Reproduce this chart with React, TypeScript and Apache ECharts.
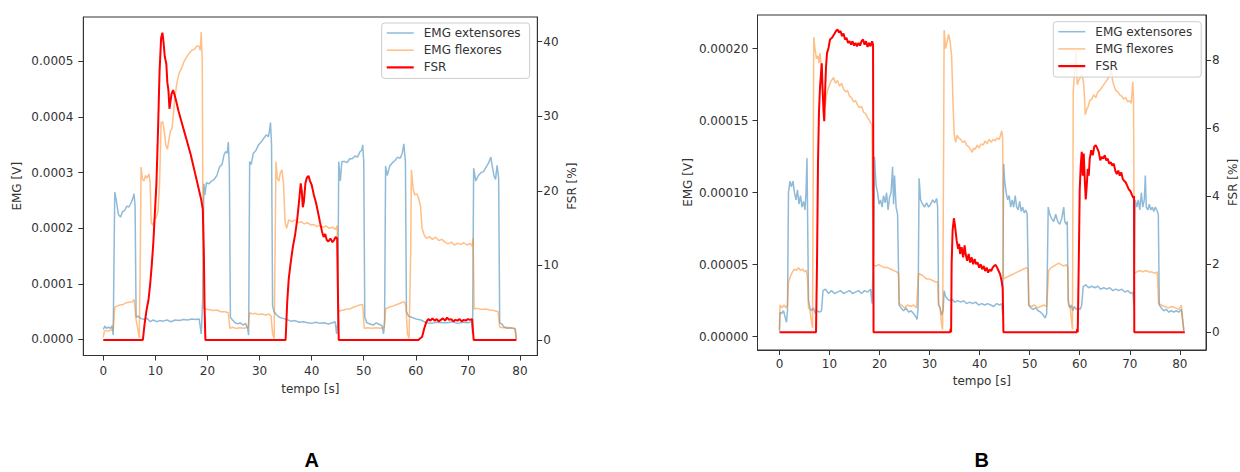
import React, { useEffect, useRef } from "react";
import * as echarts from "echarts";

type P = [number, number];

// ---------- Panel A (tempo [s], EMG [V], FSR [%]) ----------
const extensoresA: P[] = [
  [0, 0.000018], [0.3, 0.000024], [0.6, 0.00002], [1.0, 0.000022], [1.4, 0.00002], [1.7, 0.000025], [1.9, 0.000008],
  [2.2, 0.000265], [2.5, 0.00025], [2.9, 0.000225], [3.3, 0.00022], [3.7, 0.00023], [4.1, 0.000232], [4.5, 0.00024],
  [4.9, 0.000238], [5.3, 0.000245], [5.6, 0.000252], [5.9, 0.000262], [6.1, 0.00024], [6.3, 0.00004], [6.7, 0.000042],
  [7.2, 0.000038], [7.8, 0.000036], [8.4, 0.000038], [9.0, 0.000032], [9.6, 0.000035], [10.2, 0.000032], [10.8, 0.000034],
  [11.5, 0.000033], [12.2, 0.000035], [13.0, 0.000032], [13.8, 0.000035], [14.6, 0.000034], [15.4, 0.000036],
  [16.2, 0.000035], [17.0, 0.000037], [17.8, 0.000036], [18.4, 0.000037], [18.8, 0.00001], [19.1, 0.000075],
  [19.3, 0.00028], [19.5, 0.00026], [19.8, 0.000282], [20.3, 0.00028], [20.8, 0.000285], [21.3, 0.000288],
  [21.8, 0.000295], [22.3, 0.00031], [22.8, 0.000315], [23.2, 0.000333], [23.5, 0.000338], [23.8, 0.000335],
  [24.0, 0.000355], [24.2, 0.00031], [24.4, 0.00004], [24.8, 0.000035], [25.3, 0.00003], [25.8, 0.000028],
  [26.3, 0.00003], [26.8, 0.000026], [27.3, 0.000029], [27.7, 0.00002], [27.9, 0.000008], [28.1, 0.00032],
  [28.4, 0.000315], [28.8, 0.000335], [29.3, 0.00034], [29.8, 0.00035], [30.3, 0.000355], [30.8, 0.000362],
  [31.3, 0.000368], [31.7, 0.000365], [31.9, 0.000375], [32.1, 0.00039], [32.3, 0.00035], [32.5, 0.00006],
  [32.8, 0.00005], [33.2, 0.000045], [33.8, 0.00004], [34.5, 0.000038], [35.2, 0.000036], [36.0, 0.000033],
  [36.8, 0.000034], [37.6, 0.000031], [38.4, 0.000032], [39.2, 0.00003], [40.0, 0.000029], [40.8, 0.000031],
  [41.6, 0.000029], [42.4, 0.00003], [43.2, 0.000028], [44.0, 0.00003], [44.5, 0.000032], [44.8, 0.00001],
  [45.0, 0.00003], [45.2, 0.00032], [45.5, 0.000285], [45.8, 0.00032], [46.3, 0.00032], [46.8, 0.000318],
  [47.3, 0.000325], [47.8, 0.000325], [48.3, 0.00033], [48.8, 0.000328], [49.3, 0.000338], [49.6, 0.00034],
  [49.8, 0.00035], [50.0, 0.00032], [50.2, 0.00004], [50.6, 0.00003], [51.2, 0.000028], [51.8, 0.000026],
  [52.4, 0.00003], [53.0, 0.000027], [53.5, 0.000025], [53.8, 0.00001], [54.0, 0.00003], [54.2, 0.000312],
  [54.5, 0.000295], [55.0, 0.000312], [55.5, 0.000318], [56.0, 0.000322], [56.5, 0.000328], [57.0, 0.000326],
  [57.4, 0.000335], [57.7, 0.000352], [58.0, 0.00032], [58.2, 0.00005], [58.6, 0.000042], [59.2, 0.00004],
  [60.0, 0.000037], [61.0, 0.000035], [62.0, 0.00003], [63.0, 0.000029], [64.0, 0.000031], [65.0, 0.00003],
  [66.0, 0.00003], [67.0, 0.000032], [68.0, 0.000029], [69.0, 0.000031], [70.0, 0.00003], [70.7, 0.000032],
  [70.9, 0.00001], [71.1, 0.000308], [71.5, 0.000285], [72.0, 0.000295], [72.5, 0.0003], [73.0, 0.000302],
  [73.5, 0.00031], [74.0, 0.000318], [74.4, 0.000328], [74.7, 0.00031], [75.0, 0.000295], [75.3, 0.000288],
  [75.6, 0.000313], [75.9, 0.00029], [76.1, 0.00003], [76.5, 0.000028], [77.0, 0.000022], [77.6, 0.00002],
  [78.2, 0.000021], [78.8, 0.00002], [79.1, 0.000018], [79.3, 0.0],
];

const flexoresA: P[] = [
  [0, 0.000004], [0.2, 0.000015], [0.6, 0.000016], [1.0, 0.000015], [1.5, 0.000017], [1.9, 0.000018], [2.2, 0.000058],
  [2.6, 0.00006], [3.2, 0.000062], [3.8, 0.000063], [4.4, 0.000066], [5.0, 0.000067], [5.6, 0.000068], [5.9, 0.000072],
  [6.1, 0.000055], [6.3, 0.000035], [6.6, 0.00002], [6.9, 0.000003], [7.1, 0.00015], [7.25, 0.00031], [7.5, 0.00029],
  [7.8, 0.000285], [8.1, 0.000295], [8.4, 0.00029], [8.8, 0.000298], [9.0, 0.00028], [9.2, 0.00021], [9.5, 0.000205],
  [9.8, 0.000215], [10.2, 0.00022], [10.5, 0.00023], [10.8, 0.00028], [11.1, 0.00039], [11.4, 0.000392],
  [11.7, 0.000375], [12.0, 0.00035], [12.3, 0.000342], [12.6, 0.00036], [12.9, 0.000375], [13.2, 0.00038],
  [13.5, 0.00041], [13.8, 0.00044], [14.2, 0.000465], [14.6, 0.00048], [15.0, 0.000487], [15.5, 0.0005],
  [16.0, 0.000508], [16.5, 0.000515], [17.0, 0.00052], [17.5, 0.000522], [18.0, 0.000528], [18.4, 0.000527],
  [18.6, 0.00052], [18.8, 0.000553], [19.0, 0.0005], [19.2, 0.000056], [19.6, 0.000055], [20.2, 0.000054],
  [21.0, 0.000052], [21.8, 0.000053], [22.6, 0.00005], [23.4, 0.00005], [24.0, 0.000048], [24.3, 0.00002],
  [24.8, 0.000022], [25.5, 0.00002], [26.2, 0.000021], [27.0, 0.00002], [27.8, 0.000022], [28.1, 0.000048],
  [28.6, 0.000046], [29.2, 0.000047], [29.8, 0.000045], [30.5, 0.000046], [31.2, 0.000044], [31.8, 0.000046],
  [32.2, 0.000042], [32.5, 0.00001], [32.8, 0.000002], [33.0, 0.00018], [33.15, 0.00032], [33.4, 0.00029],
  [33.7, 0.000285], [34.0, 0.0003], [34.3, 0.000305], [34.6, 0.00028], [34.9, 0.00021], [35.2, 0.0002],
  [35.6, 0.000215], [36.2, 0.000212], [36.8, 0.000215], [37.4, 0.00021], [38.0, 0.000212], [38.6, 0.000208],
  [39.2, 0.00021], [39.8, 0.000206], [40.4, 0.000207], [41.0, 0.000203], [41.6, 0.000205], [42.2, 0.000202],
  [42.8, 0.000204], [43.4, 0.0002], [44.0, 0.000202], [44.6, 0.000198], [44.9, 0.000205], [45.1, 0.00005],
  [45.6, 0.000052], [46.2, 0.000053], [46.8, 0.000055], [47.4, 0.000055], [48.0, 0.000058], [48.6, 0.00006],
  [49.2, 0.000062], [49.8, 0.000063], [50.1, 0.00002], [50.6, 0.000021], [51.5, 0.00002], [52.4, 0.000021],
  [53.2, 0.00002], [53.9, 0.000022], [54.2, 0.000055], [54.8, 0.000058], [55.6, 0.00006], [56.4, 0.000063],
  [57.2, 0.000066], [57.8, 0.000068], [58.1, 0.00006], [58.4, 0.00001], [58.7, 0.000002], [59.0, 0.00015],
  [59.15, 0.000305], [59.5, 0.00027], [59.8, 0.00026], [60.2, 0.000262], [60.5, 0.000255], [60.9, 0.00024],
  [61.2, 0.0002], [61.6, 0.000188], [62.0, 0.000182], [62.6, 0.000185], [63.2, 0.00018], [63.8, 0.000184],
  [64.4, 0.000178], [65.0, 0.00018], [65.6, 0.000175], [66.2, 0.000172], [66.8, 0.000175], [67.4, 0.00017],
  [68.0, 0.000173], [68.6, 0.000171], [69.2, 0.000174], [69.8, 0.00017], [70.4, 0.000173], [70.8, 0.000168],
  [71.0, 0.000182], [71.2, 0.000055], [71.8, 0.000056], [72.6, 0.000054], [73.4, 0.000055], [74.2, 0.000053],
  [75.0, 0.000052], [75.8, 0.00005], [76.1, 0.000022], [76.8, 0.000021], [77.6, 0.000022], [78.4, 0.00002],
  [79.0, 0.00002], [79.3, 0.0],
];

const fsrA: P[] = [
  [0, 0], [3.0, 0], [7.6, 0], [7.9, 2], [8.3, 4], [8.7, 5.5], [9.0, 7.5], [9.3, 10], [9.6, 13], [9.9, 17], [10.2, 21],
  [10.5, 28], [10.8, 36], [11.1, 40.5], [11.35, 41.2], [11.55, 40], [11.8, 38], [12.1, 37], [12.3, 34.5], [12.5, 33.5],
  [12.7, 31], [12.9, 32], [13.1, 33], [13.4, 33.5], [13.7, 32.8], [14.0, 32], [14.4, 30.8], [14.8, 29.8], [15.2, 28.8],
  [15.6, 27.8], [16.0, 26.8], [16.4, 25.8], [16.8, 24.8], [17.2, 23.6], [17.6, 22.4], [18.0, 21.2], [18.4, 20],
  [18.8, 18.8], [19.1, 17.5], [19.3, 12], [19.45, 4], [19.6, 0], [28.0, 0], [35.0, 0], [35.3, 5], [35.6, 8.2],
  [36.0, 10.5], [36.4, 12.5], [36.8, 14], [37.2, 16], [37.5, 18], [37.7, 19.5], [37.9, 21], [38.1, 20], [38.3, 17.8],
  [38.5, 18.5], [38.8, 21], [39.1, 21.8], [39.4, 22], [39.7, 21.3], [40.0, 20.8], [40.4, 19.5], [40.8, 18.5],
  [41.2, 17.2], [41.6, 15.8], [42.0, 14.5], [42.3, 13.8], [42.6, 14.2], [42.9, 13.4], [43.2, 13.2], [43.6, 13.6],
  [44.0, 13.1], [44.3, 13.4], [44.6, 13.8], [44.9, 13.6], [45.05, 6], [45.2, 0], [52.0, 0], [60.5, 0], [60.8, 0.2],
  [61.2, 0.4], [61.6, 1.5], [62.0, 2.4], [62.4, 2.8], [62.8, 2.6], [63.2, 2.9], [63.6, 2.6], [64.0, 2.8], [64.4, 2.5],
  [64.8, 2.7], [65.2, 2.9], [65.6, 2.6], [66.0, 3.0], [66.4, 2.7], [66.8, 2.8], [67.2, 2.5], [67.6, 2.7], [68.0, 2.6],
  [68.4, 2.8], [68.8, 2.5], [69.2, 2.7], [69.6, 2.6], [70.0, 2.8], [70.4, 2.7], [70.8, 2.8], [71.0, 1], [71.1, 0],
  [79.3, 0],
];

// ---------- Panel B ----------
const extensoresB: P[] = [
  [0, 0.000004], [0.1, 0.000017], [0.4, 0.000016], [0.8, 0.000018], [1.1, 0.000014], [1.4, 0.00001], [1.6, 0.000018],
  [1.8, 0.0001], [2.1, 0.000108], [2.4, 0.000104], [2.7, 0.000108], [3.0, 0.0001], [3.3, 0.000095], [3.6, 0.000102],
  [3.9, 0.000092], [4.2, 0.000098], [4.5, 0.00009], [4.8, 0.000094], [5.1, 0.000088], [5.3, 0.0001], [5.5, 0.000124],
  [5.6, 0.00009], [5.8, 0.000025], [6.1, 0.00002], [6.4, 0.000018], [6.8, 0.00002], [7.2, 0.000016], [7.6, 0.000018],
  [8.0, 0.000017], [8.4, 0.000018], [8.7, 0.000032], [9.2, 0.000033], [9.8, 0.00003], [10.4, 0.000032], [11.0, 0.00003],
  [11.6, 0.000031], [12.2, 0.000032], [12.8, 0.00003], [13.4, 0.000031], [14.0, 0.000032], [14.6, 0.00003],
  [15.2, 0.000031], [15.8, 0.000032], [16.4, 0.00003], [17.0, 0.000032], [17.6, 0.000031], [18.2, 0.000033],
  [18.5, 0.000023], [18.8, 0.00006], [19.0, 0.000125], [19.3, 0.000105], [19.6, 0.0001], [19.9, 0.000092],
  [20.2, 0.000095], [20.5, 0.00009], [20.8, 0.000098], [21.1, 0.000093], [21.4, 0.0001], [21.7, 0.000088],
  [22.0, 0.000097], [22.3, 0.0001], [22.6, 0.000118], [22.8, 0.000092], [23.0, 0.000112], [23.3, 0.00009],
  [23.6, 0.000085], [23.9, 0.000022], [24.3, 0.00002], [24.8, 0.000018], [25.3, 0.00002], [25.8, 0.000017],
  [26.3, 0.000018], [26.8, 0.000016], [27.2, 0.000014], [27.5, 0.000012], [27.7, 0.00002], [27.9, 0.00011],
  [28.2, 0.000095], [28.6, 0.000092], [29.0, 0.00009], [29.4, 0.000093], [29.8, 0.00009], [30.2, 0.000092],
  [30.6, 0.000095], [31.0, 0.000093], [31.4, 0.000096], [31.6, 0.00009], [31.8, 0.000022], [32.1, 0.00002],
  [32.4, 0.000015], [32.7, 0.000018], [32.9, 0.000032], [33.2, 0.000028], [33.6, 0.000026], [34.0, 0.000025],
  [34.5, 0.000026], [35.0, 0.000024], [35.6, 0.000025], [36.2, 0.000024], [36.8, 0.000025], [37.4, 0.000023],
  [38.0, 0.000024], [38.6, 0.000023], [39.2, 0.000024], [39.8, 0.000022], [40.4, 0.000023], [41.0, 0.000022],
  [41.6, 0.000023], [42.2, 0.000022], [42.8, 0.000021], [43.4, 0.000023], [44.0, 0.000022], [44.4, 0.000023],
  [44.6, 0.000016], [44.8, 0.00012], [45.0, 0.000108], [45.3, 0.0001], [45.6, 0.000095], [45.9, 0.000098],
  [46.2, 0.00009], [46.5, 0.000095], [46.8, 0.00009], [47.1, 0.000098], [47.4, 0.00009], [47.7, 0.000088],
  [48.0, 0.000094], [48.3, 0.000087], [48.6, 0.00009], [48.9, 0.000086], [49.2, 0.000088], [49.5, 0.000085],
  [49.8, 0.000022], [50.2, 0.00002], [50.7, 0.000019], [51.2, 0.00002], [51.7, 0.000018], [52.2, 0.000017],
  [52.7, 0.000015], [53.1, 0.000013], [53.4, 0.000016], [53.7, 0.00009], [54.0, 0.000085], [54.4, 0.000082],
  [54.8, 0.00008], [55.2, 0.000085], [55.6, 0.00008], [56.0, 0.000078], [56.4, 0.000082], [56.8, 0.00009],
  [57.0, 0.00008], [57.3, 0.000078], [57.5, 0.00008], [57.7, 0.000025], [58.0, 0.00002], [58.3, 0.000022],
  [58.6, 0.000018], [58.9, 0.000021], [59.3, 0.000019], [59.7, 0.00002], [60.1, 0.000019], [60.4, 0.000022],
  [60.7, 0.000035], [61.2, 0.000036], [61.8, 0.000034], [62.4, 0.000035], [63.0, 0.000034], [63.6, 0.000035],
  [64.2, 0.000033], [64.8, 0.000034], [65.4, 0.000033], [66.0, 0.000034], [66.6, 0.000032], [67.2, 0.000033],
  [67.8, 0.000032], [68.4, 0.000033], [69.0, 0.000031], [69.6, 0.000032], [70.2, 0.00003], [70.6, 0.000031],
  [70.8, 0.000022], [71.1, 0.000095], [71.4, 0.00009], [71.7, 0.000095], [72.0, 0.000088], [72.3, 0.0001],
  [72.6, 0.00009], [72.9, 0.000095], [73.1, 0.000112], [73.3, 0.00009], [73.6, 0.000088], [73.9, 0.000092],
  [74.2, 0.000088], [74.5, 0.00009], [74.8, 0.000087], [75.1, 0.00009], [75.4, 0.000088], [75.7, 0.000085],
  [75.9, 0.000022], [76.3, 0.00002], [76.8, 0.000018], [77.3, 0.000019], [77.8, 0.000017], [78.3, 0.000018],
  [78.8, 0.000017], [79.3, 0.000018], [79.8, 0.000017], [80.3, 0.000019], [80.8, 0.000004],
];

const flexoresB: P[] = [
  [0, 0.000005], [0.1, 0.000022], [0.5, 0.00002], [0.9, 0.000022], [1.3, 0.00002], [1.6, 0.000022], [1.8, 0.000038],
  [2.2, 0.000042], [2.6, 0.000045], [3.0, 0.000047], [3.4, 0.000046], [3.8, 0.000048], [4.2, 0.000046], [4.6, 0.000047],
  [5.0, 0.000045], [5.4, 0.000046], [5.6, 0.00004], [5.8, 0.00002], [6.1, 0.000018], [6.4, 0.00001], [6.6, 0.000006],
  [6.75, 0.00012], [6.85, 0.000208], [7.1, 0.0002], [7.4, 0.000193], [7.7, 0.000195], [7.9, 0.00019], [8.1, 0.000197],
  [8.3, 0.00019], [8.5, 0.000175], [8.8, 0.000165], [9.1, 0.00016], [9.4, 0.000168], [9.7, 0.000172], [10.0, 0.000175],
  [10.4, 0.000178], [10.8, 0.00018], [11.2, 0.000176], [11.6, 0.000178], [12.0, 0.000174], [12.4, 0.000176],
  [12.8, 0.000172], [13.2, 0.00017], [13.6, 0.000171], [14.0, 0.000167], [14.4, 0.000166], [14.8, 0.000163],
  [15.2, 0.000164], [15.6, 0.000161], [16.0, 0.000159], [16.4, 0.00016], [16.8, 0.000156], [17.2, 0.000155],
  [17.6, 0.000152], [18.0, 0.00015], [18.3, 0.000148], [18.5, 0.000147], [18.7, 0.00005], [19.2, 0.000049],
  [19.8, 0.00005], [20.4, 0.000049], [21.0, 0.000048], [21.6, 0.000048], [22.2, 0.000047], [22.8, 0.000046],
  [23.4, 0.000045], [23.8, 0.000044], [23.95, 0.000023], [24.4, 0.000022], [25.0, 0.00002], [25.6, 0.000022],
  [26.2, 0.000021], [26.8, 0.000022], [27.4, 0.00002], [27.8, 0.000044], [28.3, 0.000043], [28.8, 0.000042],
  [29.4, 0.00004], [30.0, 0.00004], [30.6, 0.000039], [31.2, 0.000038], [31.6, 0.000038], [31.8, 0.000022],
  [32.1, 0.00002], [32.4, 0.000008], [32.6, 0.000005], [32.8, 0.00013], [32.9, 0.000213], [33.2, 0.0002],
  [33.5, 0.000205], [33.8, 0.00021], [34.1, 0.000205], [34.4, 0.000195], [34.7, 0.00016], [34.9, 0.000141],
  [35.2, 0.000135], [35.5, 0.00014], [35.8, 0.000138], [36.2, 0.000137], [36.6, 0.000135], [37.0, 0.000136],
  [37.4, 0.000133], [37.8, 0.000132], [38.2, 0.00013], [38.5, 0.000128], [38.8, 0.000131], [39.1, 0.00013],
  [39.5, 0.000133], [39.9, 0.000131], [40.3, 0.000134], [40.7, 0.000133], [41.1, 0.000136], [41.5, 0.000134],
  [41.9, 0.000137], [42.3, 0.000135], [42.7, 0.000137], [43.1, 0.000136], [43.5, 0.000138], [43.9, 0.000137],
  [44.2, 0.00014], [44.4, 0.000143], [44.6, 0.000138], [44.75, 0.00004], [45.2, 0.000041], [45.8, 0.000042],
  [46.4, 0.000043], [47.0, 0.000044], [47.6, 0.000045], [48.2, 0.000046], [48.8, 0.000047], [49.4, 0.000048],
  [49.7, 0.000047], [49.85, 0.000022], [50.4, 0.000021], [51.0, 0.000022], [51.6, 0.00002], [52.2, 0.000021],
  [52.8, 0.000022], [53.4, 0.000021], [53.8, 0.000046], [54.3, 0.000048], [54.8, 0.000049], [55.3, 0.00005],
  [55.8, 0.000051], [56.3, 0.00005], [56.8, 0.000049], [57.3, 0.00005], [57.6, 0.000048], [57.75, 0.000022],
  [58.1, 0.00002], [58.4, 0.000009], [58.55, 0.000005], [58.7, 0.00017], [59.0, 0.000185], [59.3, 0.000198],
  [59.5, 0.000175], [59.8, 0.000178], [60.1, 0.00018], [60.4, 0.000182], [60.7, 0.000178], [60.9, 0.00017],
  [61.1, 0.000154], [61.4, 0.000158], [61.7, 0.00016], [62.0, 0.000164], [62.4, 0.000165], [62.8, 0.000168],
  [63.2, 0.000166], [63.6, 0.00017], [64.0, 0.000171], [64.4, 0.000173], [64.8, 0.000175], [65.2, 0.000177],
  [65.6, 0.000179], [66.0, 0.000182], [66.3, 0.000185], [66.6, 0.000177], [66.9, 0.000174], [67.2, 0.000171],
  [67.6, 0.00017], [68.0, 0.000168], [68.4, 0.000167], [68.8, 0.000165], [69.2, 0.000166], [69.6, 0.000163],
  [70.0, 0.000164], [70.3, 0.000162], [70.6, 0.000177], [70.75, 0.000165], [70.9, 0.000044], [71.4, 0.000045],
  [72.0, 0.000046], [72.6, 0.000045], [73.2, 0.000046], [73.8, 0.000045], [74.4, 0.000045], [75.0, 0.000044],
  [75.5, 0.000045], [75.75, 0.000023], [76.3, 0.000022], [77.0, 0.000021], [77.7, 0.00002], [78.4, 0.000021],
  [79.1, 0.00002], [79.8, 0.000019], [80.3, 0.000022], [80.8, 0.000004],
];

const fsrB: P[] = [
  [0, 0], [4.0, 0], [7.3, 0], [7.5, 2], [7.7, 5], [7.9, 6.5], [8.1, 7.2], [8.3, 7.6], [8.45, 7.9], [8.6, 7.2],
  [8.8, 6.5], [8.95, 6.2], [9.1, 7], [9.3, 7.8], [9.5, 8.2], [9.8, 8.35], [10.1, 8.6], [10.5, 8.65], [10.9, 8.75],
  [11.3, 8.85], [11.6, 8.9], [11.9, 8.8], [12.2, 8.85], [12.5, 8.7], [12.8, 8.78], [13.1, 8.6], [13.4, 8.65],
  [13.7, 8.5], [14.0, 8.55], [14.3, 8.45], [14.6, 8.55], [14.9, 8.42], [15.2, 8.5], [15.5, 8.4], [15.8, 8.5],
  [16.1, 8.42], [16.4, 8.55], [16.7, 8.6], [17.0, 8.45], [17.3, 8.55], [17.6, 8.38], [17.9, 8.5], [18.2, 8.4],
  [18.5, 8.55], [18.7, 8.45], [18.8, 0], [26.0, 0], [34.1, 0], [34.2, 0.1], [34.3, 0], [34.4, 2], [34.6, 3],
  [34.85, 3.35], [35.1, 3.1], [35.4, 2.7], [35.7, 2.45], [35.9, 2.6], [36.1, 2.3], [36.4, 2.5], [36.7, 2.2],
  [37.0, 2.55], [37.2, 2.3], [37.5, 2.1], [37.8, 2.3], [38.1, 2.05], [38.4, 2.2], [38.7, 2.0], [39.0, 2.15],
  [39.3, 2.0], [39.6, 2.05], [39.9, 1.9], [40.2, 2.0], [40.5, 1.85], [40.8, 1.95], [41.1, 1.8], [41.4, 1.9],
  [41.7, 1.75], [42.0, 1.85], [42.3, 1.8], [42.6, 1.9], [42.9, 1.95], [43.2, 1.98], [43.5, 1.9], [43.8, 1.8],
  [44.1, 1.7], [44.4, 1.5], [44.6, 1.3], [44.75, 0], [52.0, 0], [59.4, 0], [59.5, 0.1], [59.6, 0], [59.8, 2],
  [60.0, 4.2], [60.2, 4.9], [60.4, 5.3], [60.6, 4.6], [60.8, 5.25], [61.0, 4.5], [61.2, 3.9], [61.4, 4.3],
  [61.6, 4.8], [61.8, 4.6], [62.0, 5.1], [62.3, 5.35], [62.6, 5.2], [62.9, 5.45], [63.2, 5.5], [63.5, 5.4],
  [63.8, 5.3], [64.1, 5.05], [64.4, 5.15], [64.7, 5.1], [65.0, 5.2], [65.3, 5.05], [65.6, 5.1], [65.9, 4.95],
  [66.2, 5.0], [66.5, 4.9], [66.8, 4.95], [67.1, 4.75], [67.4, 4.65], [67.7, 4.75], [68.0, 4.6], [68.3, 4.7],
  [68.6, 4.5], [68.9, 4.45], [69.2, 4.4], [69.5, 4.3], [69.8, 4.2], [70.1, 4.15], [70.4, 4.05], [70.7, 3.95],
  [70.85, 4.0], [70.9, 0], [81.0, 0],
];

// ---------- Ticks / labels ----------
const timeTicks = [0, 10, 20, 30, 40, 50, 60, 70, 80];
const emgTicksA = [0, 0.0001, 0.0002, 0.0003, 0.0004, 0.0005];
const fsrTicksA = [0, 10, 20, 30, 40];
const emgTicksB = [0, 0.00005, 0.0001, 0.00015, 0.0002];
const fsrTicksB = [0, 2, 4, 6, 8];
const seriesNames = ["EMG extensores", "EMG flexores", "FSR"];
const panelLabels = ["A", "B"];
const xTitle = "tempo [s]";
const emgTitle = "EMG [V]";
const fsrTitle = "FSR [%]";

const FONT = "DejaVu Sans";
const TXT = "#333333";
const BLUE = "#1f77b4";
const ORANGE = "#ff7f0e";
const RED = "#ff0000";

function axisBase(ticks: number[], fmt: (v: number) => string, margin: number) {
  return {
    axisLine: { show: true, onZero: false, lineStyle: { color: "#333333", width: 1 } },
    axisTick: { show: true, inside: false, length: 5, lineStyle: { color: "#333333", width: 1 }, customValues: ticks },
    axisLabel: { customValues: ticks, formatter: fmt, fontFamily: FONT, fontSize: 12, color: TXT, margin },
    splitLine: { show: false },
    nameLocation: "middle" as const,
    nameTextStyle: { fontFamily: FONT, fontSize: 12, color: TXT },
  };
}

// thin horizontal bars used as legend keys (line samples)
const thinKey = "path://M0,0 L27,0 L27,1.5 L0,1.5 Z";
const thickKey = "path://M0,0 L27,0 L27,2.2 L0,2.2 Z";

function legendCfg(left: number, top: number) {
  return {
    data: [
      { name: seriesNames[0], icon: thinKey, itemStyle: { color: BLUE, opacity: 0.5 } },
      { name: seriesNames[1], icon: thinKey, itemStyle: { color: ORANGE, opacity: 0.5 } },
      { name: seriesNames[2], icon: thickKey, itemStyle: { color: RED, opacity: 1 } },
    ],
    orient: "vertical",
    left,
    top,
    itemWidth: 27,
    itemHeight: 14,
    itemGap: 5.2,
    symbolKeepAspect: true,
    padding: [4, 9, 5, 5],
    backgroundColor: "rgba(255,255,255,0.8)",
    borderColor: "#cccccc",
    borderWidth: 1,
    borderRadius: 3,
    selectedMode: false,
    textStyle: { fontFamily: FONT, fontSize: 12, color: TXT, padding: [0, 0, 0, 5] },
  };
}

function lineSeries(name: string, data: P[], xi: number, yi: number, color: string, width: number, opacity: number, z: number) {
  return {
    name,
    type: "line",
    xAxisIndex: xi,
    yAxisIndex: yi,
    data,
    symbol: "none",
    showSymbol: false,
    z,
    itemStyle: { color, opacity },
    lineStyle: { color, width, opacity },
    emphasis: { disabled: true },
  };
}

export default function App() {
  const ref = useRef<HTMLDivElement>(null);
  useEffect(() => {
    if (!ref.current) return;
    const chart = echarts.init(ref.current, null, { renderer: "svg" });
    const int = (v: number) => String(Math.round(v));
    const option: any = {
      animation: false,
      backgroundColor: "#ffffff",
      textStyle: { fontFamily: FONT },
      grid: [
        { left: 83.3, top: 17, width: 454, height: 338.5, show: true, borderColor: "#333333", borderWidth: 1, backgroundColor: "transparent" },
        { left: 757.5, top: 15, width: 449, height: 335, show: true, borderColor: "#333333", borderWidth: 1, backgroundColor: "transparent" },
      ],
      xAxis: [
        { type: "value", gridIndex: 0, min: -3.84, max: 83.32, name: xTitle, nameGap: 27, ...axisBase(timeTicks, int, 9) },
        { type: "value", gridIndex: 1, min: -4.39, max: 85.23, name: xTitle, nameGap: 25, ...axisBase(timeTicks, int, 8) },
      ],
      yAxis: [
        { type: "value", gridIndex: 0, position: "left", min: -0.0000288, max: 0.00058, name: emgTitle, nameGap: 60,
          ...axisBase(emgTicksA, (v: number) => v.toFixed(4), 10) },
        { type: "value", gridIndex: 0, position: "right", min: -2.08, max: 43.3, name: fsrTitle, nameGap: 29,
          ...axisBase(fsrTicksA, int, 6) },
        { type: "value", gridIndex: 1, position: "left", min: -0.00000924, max: 0.0002234, name: emgTitle, nameGap: 64,
          ...axisBase(emgTicksB, (v: number) => v.toFixed(5), 9) },
        { type: "value", gridIndex: 1, position: "right", min: -0.52, max: 9.32, name: fsrTitle, nameGap: 21,
          ...axisBase(fsrTicksB, int, 6) },
      ],
      legend: [legendCfg(381.7, 23), legendCfg(1053.3, 21.7)],
      series: [
        lineSeries(seriesNames[0], extensoresA, 0, 0, BLUE, 1.5, 0.5, 2),
        lineSeries(seriesNames[1], flexoresA, 0, 0, ORANGE, 1.5, 0.5, 2),
        lineSeries(seriesNames[2], fsrA, 0, 1, RED, 2, 1, 3),
        lineSeries(seriesNames[0], extensoresB, 1, 2, BLUE, 1.5, 0.5, 2),
        lineSeries(seriesNames[1], flexoresB, 1, 2, ORANGE, 1.5, 0.5, 2),
        lineSeries(seriesNames[2], fsrB, 1, 3, RED, 2, 1, 3),
      ],
      graphic: [
        { type: "text", x: 311.7, y: 460, style: { text: panelLabels[0], font: 'bold 20px "Liberation Sans"', fill: "#000000",
          textAlign: "center", textVerticalAlign: "middle", align: "center", verticalAlign: "middle" } },
        { type: "text", x: 981.7, y: 460, style: { text: panelLabels[1], font: 'bold 20px "Liberation Sans"', fill: "#000000",
          textAlign: "center", textVerticalAlign: "middle", align: "center", verticalAlign: "middle" } },
      ],
    };
    chart.setOption(option);
    return () => chart.dispose();
  }, []);
  return (
    <div
      ref={ref}
      style={{ position: "absolute", left: 0, top: 0, width: 1240, height: 472, background: "#ffffff" }}
    />
  );
}
